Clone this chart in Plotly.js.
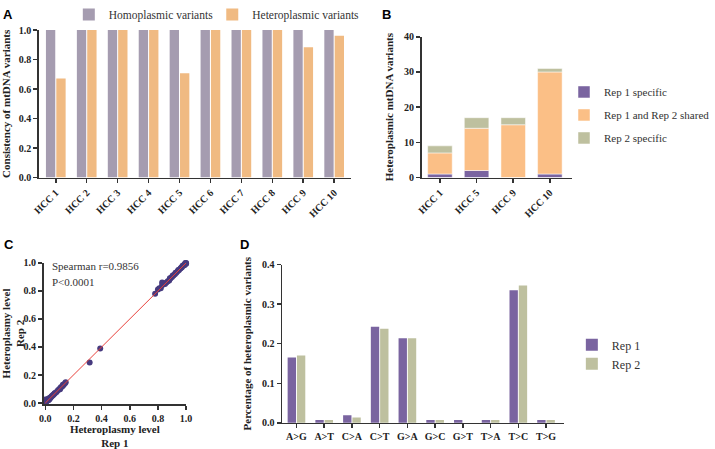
<!DOCTYPE html>
<html><head><meta charset="utf-8">
<script src="https://cdn.plot.ly/plotly-3.0.1.min.js"></script>
<style>html,body{margin:0;padding:0;background:#fff}#chart{width:715px;height:449px}</style>
</head><body><div id="chart"></div>
<script>
// ---------- Panel A data ----------
const hccA = ['HCC 1','HCC 2','HCC 3','HCC 4','HCC 5','HCC 6','HCC 7','HCC 8','HCC 9','HCC 10'];
const homoplasmic = [1,1,1,1,1,1,1,1,1,1];
const heteroplasmic = [0.672,1,1,1,0.707,1,1,1,0.883,0.962];
// ---------- Panel B data ----------
const hccB = ['HCC 1','HCC 5','HCC 9','HCC 10'];
const rep1Specific = [1,2,0,1];
const sharedRep = [6,12,15,29];
const rep2Specific = [2,3,2,1];
// ---------- Panel C data ----------
const rep1Level = [0.000,0.002,0.004,0.006,0.008,0.010,0.012,0.015,0.018,0.020,0.022,0.025,0.028,0.030,0.033,0.036,0.040,0.045,0.050,0.055,0.060,0.065,0.070,0.080,0.090,0.100,0.105,0.110,0.120,0.125,0.130,0.140,0.145,
  0.315,0.390,
  0.780,0.800,0.810,0.820,0.830,0.830,0.840,0.850,0.860,0.870,0.880,0.885,0.890,0.900,0.905,0.910,0.920,0.925,0.930,0.940,0.945,0.950,0.960,0.965,0.970,0.975,0.980,0.985,0.990,0.995,1.000,0.990,1.000];
const rep2Level = [0.025,0.010,0.006,0.020,0.012,0.015,0.025,0.018,0.022,0.028,0.020,0.030,0.026,0.035,0.032,0.040,0.042,0.048,0.052,0.058,0.060,0.068,0.072,0.078,0.092,0.100,0.098,0.112,0.118,0.130,0.128,0.142,0.148,
  0.290,0.390,
  0.780,0.810,0.820,0.820,0.860,0.840,0.850,0.850,0.860,0.870,0.875,0.890,0.890,0.900,0.910,0.910,0.920,0.930,0.930,0.940,0.950,0.950,0.960,0.965,0.970,0.980,0.980,0.985,0.990,1.000,1.000,0.985,0.995];
const fitX = [0,1];
const fitY = [0,1];
const spearmanText = ['Spearman r=0.9856','P&lt;0.0001'];
// ---------- Panel D data ----------
const substitutions = ['A>G','A>T','C>A','C>T','G>A','G>C','G>T','T>A','T>C','T>G'];
const rep1Pct = [0.165,0.007,0.019,0.243,0.214,0.007,0.007,0.007,0.335,0.007];
const rep2Pct = [0.170,0.007,0.0135,0.238,0.214,0.007,0,0.007,0.347,0.007];

const W = 715, H = 449;
const px = v => v / W;
const py = v => 1 - v / H;
const SERIF = 'Liberation Serif, Times New Roman, serif';
const tickFont = {family: SERIF, size: 10, color: '#222', weight: 700};
const titleFont = {family: SERIF, size: 11, color: '#222', weight: 700};
const baseAxis = {showline: true, linecolor: '#333', linewidth: 1.5, ticks: 'outside', ticklen: 4,
  tickwidth: 1.5, tickcolor: '#333', showgrid: false, zeroline: false, tickfont: tickFont, fixedrange: true};

const base2 = rep1Specific.map((v, i) => v + sharedRep[i]);

const traces = [
  {type: 'bar', x: hccA, y: homoplasmic, name: 'Homoplasmic variants', marker: {color: '#A59CB0'},
    xaxis: 'x', yaxis: 'y', legend: 'legend'},
  {type: 'bar', x: hccA, y: heteroplasmic, name: 'Heteroplasmic variants', marker: {color: '#F0BA82'},
    xaxis: 'x', yaxis: 'y', legend: 'legend4'},
  {type: 'bar', x: hccB, y: rep1Specific, name: 'Rep 1 specific', marker: {color: '#7A64A0', line: {color: '#fff', width: 0.5}},
    width: 0.67, offset: -0.335, xaxis: 'x2', yaxis: 'y2', legend: 'legend2', legendgroup: 'b1'},
  {type: 'bar', x: hccB, y: sharedRep, base: rep1Specific, name: 'Rep 1 and Rep 2 shared', marker: {color: '#FBBF86', line: {color: '#fff', width: 0.5}},
    width: 0.67, offset: -0.335, xaxis: 'x2', yaxis: 'y2', legend: 'legend2', legendgroup: 'b2'},
  {type: 'bar', x: hccB, y: rep2Specific, base: base2, name: 'Rep 2 specific', marker: {color: '#BEC09F', line: {color: '#fff', width: 0.5}},
    width: 0.67, offset: -0.335, xaxis: 'x2', yaxis: 'y2', legend: 'legend2', legendgroup: 'b3'},
  {type: 'scatter', mode: 'markers', x: rep1Level, y: rep2Level, marker: {color: '#463A7E', size: 6},
    xaxis: 'x3', yaxis: 'y3', showlegend: false, cliponaxis: false},
  {type: 'scatter', mode: 'lines', x: fitX, y: fitY, line: {color: '#E8403A', width: 1},
    xaxis: 'x3', yaxis: 'y3', showlegend: false},
  {type: 'bar', x: substitutions, y: rep1Pct, name: 'Rep 1', marker: {color: '#7A64A0'},
    xaxis: 'x4', yaxis: 'y4', legend: 'legend3'},
  {type: 'bar', x: substitutions, y: rep2Pct, name: 'Rep 2', marker: {color: '#BEC09F'},
    xaxis: 'x4', yaxis: 'y4', legend: 'legend3'}
];

const legendFontA = {family: SERIF, size: 11.5, color: '#333'};

const layout = {
  width: W, height: H, margin: {l: 0, r: 0, t: 0, b: 0},
  paper_bgcolor: '#fff', plot_bgcolor: 'rgba(0,0,0,0)',
  barmode: 'group', bargap: 0.33, bargroupgap: 0.1,
  font: {family: SERIF, color: '#222'},
  // A
  xaxis: Object.assign({}, baseAxis, {domain: [px(40), px(362)], range: [-0.55, 9.54], tickangle: -45, anchor: 'y'}),
  yaxis: Object.assign({}, baseAxis, {domain: [py(175.7), py(27.3)], range: [0, 1], dtick: 0.2, tickformat: '.1f', anchor: 'x',
    title: {text: 'Consistency of mtDNA variants', font: titleFont, standoff: 8}}),
  // B
  xaxis2: Object.assign({}, baseAxis, {domain: [px(435), px(590)], range: [-0.5, 3.6], tickangle: -45, anchor: 'y2'}),
  yaxis2: Object.assign({}, baseAxis, {domain: [py(175.7), py(34)], range: [0, 40], dtick: 10, anchor: 'x2',
    title: {text: 'Heteroplasmic mtDNA variants', font: titleFont, standoff: 8}}),
  // C
  xaxis3: Object.assign({}, baseAxis, {domain: [px(45), px(192)], range: [-0.012, 1.0], dtick: 0.2, tickformat: '.1f', anchor: 'y3',
    title: {text: 'Heteroplasmy level<br>Rep 1', font: titleFont, standoff: 4}}),
  yaxis3: Object.assign({}, baseAxis, {domain: [py(403.7), py(261.7)], range: [-0.007, 1.0], dtick: 0.2, tickformat: '.1f', anchor: 'x3',
    title: {text: 'Heteroplasmy level<br>Rep 2', font: titleFont, standoff: 4}}),
  // D
  xaxis4: Object.assign({}, baseAxis, {domain: [px(291), px(581.7)], range: [-0.52, 9.64], tickangle: 0, anchor: 'y4'}),
  yaxis4: Object.assign({}, baseAxis, {domain: [py(422.7), py(263.3)], range: [0, 0.4], dtick: 0.1, tickformat: '.1f', anchor: 'x4',
    title: {text: 'Percentage of heteroplasmic variants', font: titleFont, standoff: 8}}),
  legend: {orientation: 'h', x: px(71), xanchor: 'left', y: py(11.3), yanchor: 'middle',
    font: legendFontA, bgcolor: 'rgba(0,0,0,0)'},
  legend4: {orientation: 'h', x: px(219), xanchor: 'left', y: py(11.3), yanchor: 'middle',
    font: legendFontA, bgcolor: 'rgba(0,0,0,0)'},
  legend2: {x: px(582), xanchor: 'left', y: py(112.7), yanchor: 'middle', traceorder: 'grouped', tracegroupgap: 4,
    font: {family: SERIF, size: 11, color: '#333'}, bgcolor: 'rgba(0,0,0,0)'},
  legend3: {x: px(590), xanchor: 'left', y: py(353.7), yanchor: 'middle',
    font: {family: SERIF, size: 12, color: '#333'}, bgcolor: 'rgba(0,0,0,0)'},
  annotations: [
    {text: 'A', x: px(1), y: py(2), xref: 'paper', yref: 'paper', xanchor: 'left', yanchor: 'top', showarrow: false,
      font: {family: 'Liberation Sans, Arial, sans-serif', size: 13, weight: 700, color: '#000'}},
    {text: 'B', x: px(392), y: py(2), xref: 'paper', yref: 'paper', xanchor: 'left', yanchor: 'top', showarrow: false,
      font: {family: 'Liberation Sans, Arial, sans-serif', size: 13, weight: 700, color: '#000'}},
    {text: 'C', x: px(2), y: py(234), xref: 'paper', yref: 'paper', xanchor: 'left', yanchor: 'top', showarrow: false,
      font: {family: 'Liberation Sans, Arial, sans-serif', size: 13, weight: 700, color: '#000'}},
    {text: 'D', x: px(246), y: py(234), xref: 'paper', yref: 'paper', xanchor: 'left', yanchor: 'top', showarrow: false,
      font: {family: 'Liberation Sans, Arial, sans-serif', size: 13, weight: 700, color: '#000'}},
    {text: spearmanText[0], x: px(52), y: py(265), xref: 'paper', yref: 'paper', xanchor: 'left', yanchor: 'middle', showarrow: false,
      font: {family: SERIF, size: 11, color: '#333'}},
    {text: spearmanText[1], x: px(52), y: py(281), xref: 'paper', yref: 'paper', xanchor: 'left', yanchor: 'middle', showarrow: false,
      font: {family: SERIF, size: 11, color: '#333'}}
  ]
};

Plotly.newPlot('chart', traces, layout, {staticPlot: true, displayModeBar: false});
</script>
</body></html>
